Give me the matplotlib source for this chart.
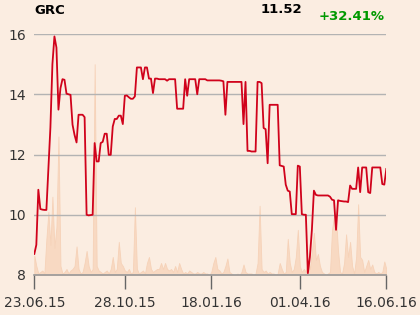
import matplotlib.pyplot as plt

# closing prices, one per trading session
prices = [
    8.70, 9.00, 10.83, 10.19, 10.17, 10.16, 10.16, 11.50, 12.90, 15.00,
    15.92, 15.55, 13.49, 14.20, 14.50, 14.48, 14.02, 14.00, 13.98, 12.99,
    12.65, 12.40, 13.32, 13.32, 13.32, 13.24, 10.00, 9.98, 9.99, 10.00,
    12.38, 11.77, 11.77, 12.38, 12.42, 12.69, 12.69, 11.99, 11.99, 12.93,
    13.18, 13.18, 13.29, 13.29, 13.01, 13.95, 13.96, 13.90, 13.85, 13.85,
    13.93, 14.89, 14.89, 14.89, 14.50, 14.89, 14.89, 14.52, 14.52, 14.04,
    14.52, 14.52, 14.50, 14.50, 14.50, 14.50, 14.45, 14.50, 14.50, 14.50,
    14.50, 13.52, 13.52, 13.52, 13.52, 14.50, 13.95, 14.50, 14.50, 14.50,
    14.50, 14.00, 14.50, 14.50, 14.50, 14.50, 14.46, 14.46, 14.46, 14.46,
    14.46, 14.46, 14.46, 14.45, 14.43, 13.32, 14.41, 14.41, 14.41, 14.41,
    14.41, 14.41, 14.41, 14.41, 13.01, 14.41, 12.12, 12.12, 12.10, 12.10,
    12.10, 14.41, 14.41, 14.37, 12.88, 12.84, 11.71, 13.65, 13.65, 13.65,
    13.65, 13.65, 11.64, 11.62, 11.60, 11.00, 10.80, 10.77, 10.02, 10.02,
    10.02, 11.63, 11.60, 10.02, 10.00, 10.00, 8.06, 8.60, 9.50, 10.80,
    10.66, 10.64, 10.64, 10.64, 10.64, 10.64, 10.64, 10.60, 10.50, 10.48,
    9.50, 10.48, 10.46, 10.45, 10.44, 10.44, 10.42, 10.97, 10.86, 10.86,
    10.86, 11.57, 10.75, 11.57, 11.57, 11.57, 10.75, 10.72, 11.57, 11.57,
    11.57, 11.57, 11.57, 11.02, 11.00, 11.52,
]

# traded volume per session (thousands)
volume = [
    650, 300, 50, 100, 150, 50, 1200, 2100, 1000, 2600,
    900, 1600, 4600, 300, 50, 100, 200, 50, 150, 200,
    300, 950, 200, 50, 100, 400, 800, 300, 100, 200,
    7000, 300, 150, 100, 50, 100, 150, 50, 200, 600,
    100, 200, 1100, 400, 300, 150, 100, 200, 50, 100,
    2250, 200, 50, 100, 150, 50, 400, 600, 200, 100,
    150, 200, 200, 400, 200, 400, 200, 150, 200, 100,
    300, 100, 400, 200, 50, 100, 50, 150, 100, 50,
    50, 100, 50, 50, 100, 50, 50, 0, 100, 400,
    600, 200, 150, 50, 100, 300, 550, 100, 50, 0,
    0, 50, 0, 100, 350, 100, 50, 50, 50, 0,
    50, 400, 2300, 200, 100, 150, 50, 100, 50, 50,
    0, 50, 400, 200, 50, 100, 1200, 400, 100, 200,
    600, 1500, 300, 100, 200, 100, 500, 200, 800, 1400,
    500, 700, 300, 100, 50, 0, 50, 100, 1500, 1950,
    1900, 800, 100, 50, 400, 1350, 600, 1100, 300, 50,
    600, 2350, 600, 500, 100, 300, 500, 200, 350, 100,
    50, 100, 50, 100, 450, 200,
]

tick_pos = [0, 45, 88, 132, 175]
tick_labels = ["23.06.15", "28.10.15", "18.01.16", "01.04.16", "16.06.16"]
y_ticks = [8, 10, 12, 14, 16]

ticker = "GRC"
last = "11.52"
change = "+32.41%"

bg = '#fbede1'
fig = plt.figure(figsize=(4.2, 3.15), dpi=100, facecolor=bg)
ax = fig.add_axes([0.0817, 0.127, 0.8381, 0.765])
ax.set_facecolor(bg)

x = list(range(len(prices)))

# volume as a soft area behind the price
vax = ax.twinx()
vax.fill_between(x, 0, volume, color='#f8d9c2', linewidth=0.6, edgecolor='#f6d2b8')
vax.set_ylim(0, 8000)
vax.axis('off')
ax.set_zorder(vax.get_zorder() + 1)
ax.patch.set_visible(False)
fig.patch.set_facecolor(bg)
vax.patch.set_facecolor(bg)

ax.plot(x, prices, color='#d0021b', linewidth=1.3, zorder=3)

ax.set_xlim(0, len(prices) - 1)
ax.set_ylim(8, 16)
ax.set_yticks(y_ticks)
ax.set_xticks(tick_pos)
ax.set_xticklabels(tick_labels)
ax.grid(axis='y', color='#b3b3b3', linewidth=1)
ax.set_axisbelow(True)

for s in ['top', 'right', 'left']:
    ax.spines[s].set_visible(False)
ax.spines['bottom'].set_color('#999999')
ax.spines['bottom'].set_linewidth(1.2)
ax.tick_params(axis='y', length=0, pad=6, labelsize=10, labelcolor='#333333')
ax.tick_params(axis='x', length=10, width=1, color='#666666', pad=5,
               labelsize=10, labelcolor='#333333')

fig.text(0.083, 0.967, ticker, fontsize=9.5, fontweight='bold', va='center', ha='left')
fig.text(0.72, 0.969, last, fontsize=9.5, fontweight='bold', va='center', ha='right')
fig.text(0.915, 0.948, change, fontsize=9.5, fontweight='bold', va='center', ha='right',
         color='#009900')

plt.savefig('out.png', dpi=100, facecolor=bg)
